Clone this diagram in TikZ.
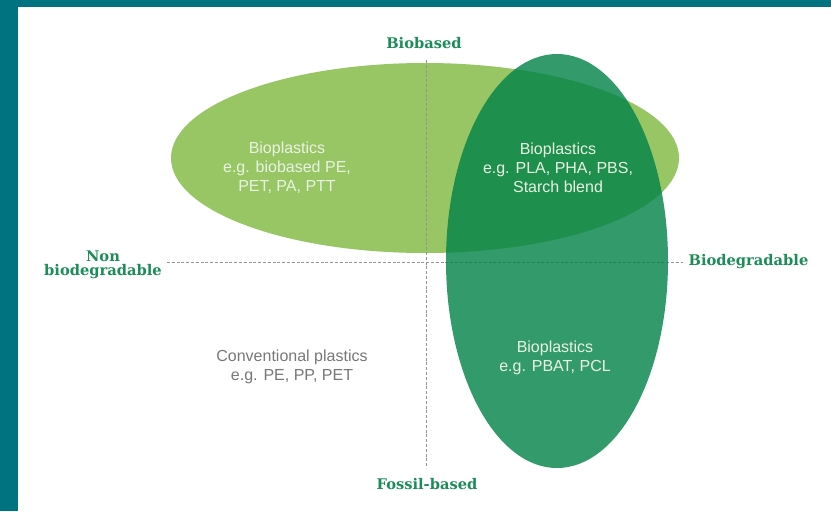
\documentclass[tikz,border=0pt]{standalone}
\usepackage{fontspec}
\setmainfont{Liberation Sans}
\newfontfamily\axisfont{DejaVu Serif}
\usetikzlibrary{shapes.geometric,positioning}

\begin{document}
\begin{tikzpicture}[x=0.75pt,y=-0.75pt,
  blob/.style={shape=ellipse,inner sep=0pt,draw=none},
  axislabel/.style={font=\axisfont\bfseries\fontsize{11}{10.5}\selectfont,text=caxis,align=center,inner sep=1pt},
  blobtext/.style={font=\fontsize{12}{14.25}\selectfont,text=ctext,align=center},
  axisline/.style={draw=cdash,line width=0.6pt,dash pattern=on 2.2pt off 1.4pt}]
%
\useasboundingbox (0,0) rectangle (831,511);
%
\definecolor{cframe}{rgb}{0.0,0.451,0.502}
\definecolor{clight}{rgb}{0.596,0.776,0.396}
\definecolor{cdark}{rgb}{0.0,0.51,0.275}
\definecolor{caxis}{rgb}{0.110,0.549,0.345}
\definecolor{cdash}{rgb}{0.58,0.58,0.58}
\definecolor{ctext}{rgb}{0.91,0.95,0.89}
\definecolor{cgrey}{rgb}{0.47,0.47,0.47}
%
\fill[white] (0,0) rectangle (831,511);
\fill[cframe] (0,0) rectangle (831,7);
\fill[cframe] (0,0) rectangle (18,511);
%
\node[blob,fill=clight,minimum width=381pt,minimum height=142.5pt] (biobased) at (425,158) {};
%
\node[axislabel] (top) at (424,43) {Biobased};
\node[axislabel] (bottom) at (427,484) {Fossil-based};
\node[axislabel] (left) at (103,265) {Non\\biodegradable};
\node[axislabel,anchor=west] (right) at (687,262) {Biodegradable};
%
\coordinate (vtop) at (426,60);
\coordinate (vbot) at (426,468);
\coordinate (hleft) at (167,262);
\coordinate (hright) at (683,262);
\draw[axisline] (vtop) -- (vbot);
\draw[axisline] (hleft) -- (hright);
%
\node[blob,fill=cdark,fill opacity=0.8,minimum width=166.5pt,minimum height=310.5pt] (biodeg) at (557,261) {};
%
\node[blobtext] (bioPE) at (287,168) {Bioplastics\\e.g. biobased PE,\\PET, PA, PTT};
\node[blobtext] (bioPLA) at (558,168) {Bioplastics\\e.g. PLA, PHA, PBS,\\Starch blend};
\node[blobtext] (bioPBAT) at (555,358) {Bioplastics\\e.g. PBAT, PCL};
\node[blobtext,text=cgrey] (conv) at (292,367) {Conventional plastics\\e.g. PE, PP, PET};
%
\end{tikzpicture}
\end{document}
